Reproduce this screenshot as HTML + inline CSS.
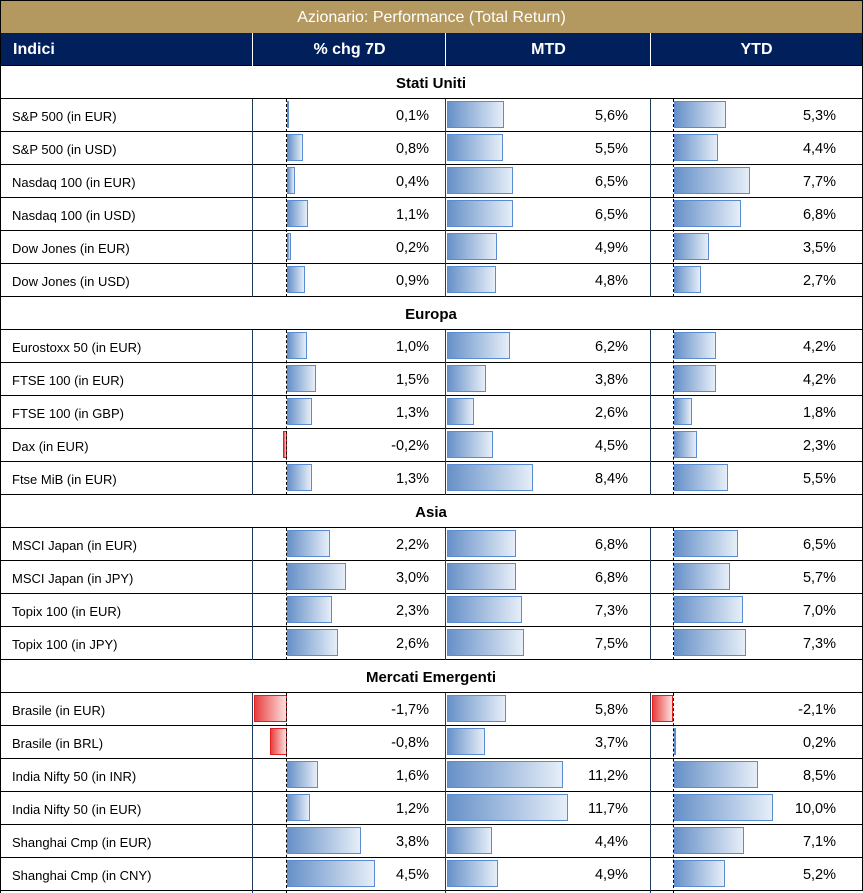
<!DOCTYPE html>
<html><head><meta charset="utf-8"><style>
body{margin:0;width:863px;height:893px;background:#fff;position:relative;overflow:hidden;font-family:"Liberation Sans",sans-serif;}
.t{position:absolute;left:0;top:0;width:861px;height:32px;background:#b3985f;border:1px solid #000;color:#fff;font-size:16px;text-align:center;line-height:34px}
.h{position:absolute;left:0;top:33px;width:861px;height:32px;background:#001f5b;border:1px solid #000;border-top:none;color:#fff;font-size:16px;font-weight:bold;line-height:34px}
.h span{position:absolute;top:0;text-align:center}
.s{position:absolute;left:0;width:862px;height:32px;border-right:1px solid #000;border-bottom:1px solid #000;font-weight:bold;font-size:15px;text-align:center;line-height:35px}
.r{position:absolute;left:0;width:862px;height:32px;border-right:1px solid #000;border-bottom:1px solid #000;font-size:13px;line-height:35px}
.r .l{position:absolute;left:12px;top:0}
.r .v{position:absolute;top:0;text-align:right;font-size:14.5px}
.b{position:absolute;top:2px;height:27px;box-sizing:border-box;border:1px solid #5b8bd0;background:linear-gradient(to right,#6791c8,#e6eef8)}
.n{position:absolute;top:2px;height:27px;box-sizing:border-box;border:1px solid #e02020;background:linear-gradient(to right,#e84040,#fde0e0)}
.vl{position:absolute;width:1px;background:#1f3b5a}
.dl{position:absolute;width:0;border-left:1px dashed #000}
</style></head><body>
<div class="t">Azionario: Performance (Total Return)</div>
<div class="h"><span style="left:12px">Indici</span><span style="left:252px;width:193px">% chg 7D</span><span style="left:445px;width:205px">MTD</span><span style="left:650px;width:211px">YTD</span></div>
<div class="vl" style="left:252px;top:33px;height:33px;background:#fff"></div>
<div class="vl" style="left:445px;top:33px;height:33px;background:#fff"></div>
<div class="vl" style="left:650px;top:33px;height:33px;background:#fff"></div>

<div class="s" style="top:66px">Stati Uniti</div>
<div class="s" style="top:297px">Europa</div>
<div class="s" style="top:495px">Asia</div>
<div class="s" style="top:660px">Mercati Emergenti</div>

<div class="r" style="top:99px"><span class="l">S&amp;P 500 (in EUR)</span><div class="b" style="left:287px;width:2px"></div><span class="v" style="right:433px">0,1%</span><div class="b" style="left:447px;width:57px"></div><span class="v" style="right:234px">5,6%</span><div class="b" style="left:674px;width:52px"></div><span class="v" style="right:26px">5,3%</span></div>
<div class="r" style="top:132px"><span class="l">S&amp;P 500 (in USD)</span><div class="b" style="left:287px;width:16px"></div><span class="v" style="right:433px">0,8%</span><div class="b" style="left:447px;width:56px"></div><span class="v" style="right:234px">5,5%</span><div class="b" style="left:674px;width:44px"></div><span class="v" style="right:26px">4,4%</span></div>
<div class="r" style="top:165px"><span class="l">Nasdaq 100 (in EUR)</span><div class="b" style="left:287px;width:8px"></div><span class="v" style="right:433px">0,4%</span><div class="b" style="left:447px;width:66px"></div><span class="v" style="right:234px">6,5%</span><div class="b" style="left:674px;width:76px"></div><span class="v" style="right:26px">7,7%</span></div>
<div class="r" style="top:198px"><span class="l">Nasdaq 100 (in USD)</span><div class="b" style="left:287px;width:21px"></div><span class="v" style="right:433px">1,1%</span><div class="b" style="left:447px;width:66px"></div><span class="v" style="right:234px">6,5%</span><div class="b" style="left:674px;width:67px"></div><span class="v" style="right:26px">6,8%</span></div>
<div class="r" style="top:231px"><span class="l">Dow Jones (in EUR)</span><div class="b" style="left:287px;width:4px"></div><span class="v" style="right:433px">0,2%</span><div class="b" style="left:447px;width:50px"></div><span class="v" style="right:234px">4,9%</span><div class="b" style="left:674px;width:35px"></div><span class="v" style="right:26px">3,5%</span></div>
<div class="r" style="top:264px"><span class="l">Dow Jones (in USD)</span><div class="b" style="left:287px;width:18px"></div><span class="v" style="right:433px">0,9%</span><div class="b" style="left:447px;width:49px"></div><span class="v" style="right:234px">4,8%</span><div class="b" style="left:674px;width:27px"></div><span class="v" style="right:26px">2,7%</span></div>

<div class="r" style="top:330px"><span class="l">Eurostoxx 50 (in EUR)</span><div class="b" style="left:287px;width:20px"></div><span class="v" style="right:433px">1,0%</span><div class="b" style="left:447px;width:63px"></div><span class="v" style="right:234px">6,2%</span><div class="b" style="left:674px;width:42px"></div><span class="v" style="right:26px">4,2%</span></div>
<div class="r" style="top:363px"><span class="l">FTSE 100 (in EUR)</span><div class="b" style="left:287px;width:29px"></div><span class="v" style="right:433px">1,5%</span><div class="b" style="left:447px;width:39px"></div><span class="v" style="right:234px">3,8%</span><div class="b" style="left:674px;width:42px"></div><span class="v" style="right:26px">4,2%</span></div>
<div class="r" style="top:396px"><span class="l">FTSE 100 (in GBP)</span><div class="b" style="left:287px;width:25px"></div><span class="v" style="right:433px">1,3%</span><div class="b" style="left:447px;width:27px"></div><span class="v" style="right:234px">2,6%</span><div class="b" style="left:674px;width:18px"></div><span class="v" style="right:26px">1,8%</span></div>
<div class="r" style="top:429px"><span class="l">Dax (in EUR)</span><div class="n" style="left:283px;width:4px"></div><span class="v" style="right:433px">-0,2%</span><div class="b" style="left:447px;width:46px"></div><span class="v" style="right:234px">4,5%</span><div class="b" style="left:674px;width:23px"></div><span class="v" style="right:26px">2,3%</span></div>
<div class="r" style="top:462px"><span class="l">Ftse MiB (in EUR)</span><div class="b" style="left:287px;width:25px"></div><span class="v" style="right:433px">1,3%</span><div class="b" style="left:447px;width:86px"></div><span class="v" style="right:234px">8,4%</span><div class="b" style="left:674px;width:54px"></div><span class="v" style="right:26px">5,5%</span></div>

<div class="r" style="top:528px"><span class="l">MSCI Japan (in EUR)</span><div class="b" style="left:287px;width:43px"></div><span class="v" style="right:433px">2,2%</span><div class="b" style="left:447px;width:69px"></div><span class="v" style="right:234px">6,8%</span><div class="b" style="left:674px;width:64px"></div><span class="v" style="right:26px">6,5%</span></div>
<div class="r" style="top:561px"><span class="l">MSCI Japan (in JPY)</span><div class="b" style="left:287px;width:59px"></div><span class="v" style="right:433px">3,0%</span><div class="b" style="left:447px;width:69px"></div><span class="v" style="right:234px">6,8%</span><div class="b" style="left:674px;width:56px"></div><span class="v" style="right:26px">5,7%</span></div>
<div class="r" style="top:594px"><span class="l">Topix 100 (in EUR)</span><div class="b" style="left:287px;width:45px"></div><span class="v" style="right:433px">2,3%</span><div class="b" style="left:447px;width:75px"></div><span class="v" style="right:234px">7,3%</span><div class="b" style="left:674px;width:69px"></div><span class="v" style="right:26px">7,0%</span></div>
<div class="r" style="top:627px"><span class="l">Topix 100 (in JPY)</span><div class="b" style="left:287px;width:51px"></div><span class="v" style="right:433px">2,6%</span><div class="b" style="left:447px;width:77px"></div><span class="v" style="right:234px">7,5%</span><div class="b" style="left:674px;width:72px"></div><span class="v" style="right:26px">7,3%</span></div>

<div class="r" style="top:693px"><span class="l">Brasile (in EUR)</span><div class="n" style="left:254px;width:33px"></div><span class="v" style="right:433px">-1,7%</span><div class="b" style="left:447px;width:59px"></div><span class="v" style="right:234px">5,8%</span><div class="n" style="left:652px;width:21px"></div><span class="v" style="right:26px">-2,1%</span></div>
<div class="r" style="top:726px"><span class="l">Brasile (in BRL)</span><div class="n" style="left:270px;width:17px"></div><span class="v" style="right:433px">-0,8%</span><div class="b" style="left:447px;width:38px"></div><span class="v" style="right:234px">3,7%</span><div class="b" style="left:674px;width:2px"></div><span class="v" style="right:26px">0,2%</span></div>
<div class="r" style="top:759px"><span class="l">India Nifty 50 (in INR)</span><div class="b" style="left:287px;width:31px"></div><span class="v" style="right:433px">1,6%</span><div class="b" style="left:447px;width:116px"></div><span class="v" style="right:234px">11,2%</span><div class="b" style="left:674px;width:84px"></div><span class="v" style="right:26px">8,5%</span></div>
<div class="r" style="top:792px"><span class="l">India Nifty 50 (in EUR)</span><div class="b" style="left:287px;width:23px"></div><span class="v" style="right:433px">1,2%</span><div class="b" style="left:447px;width:121px"></div><span class="v" style="right:234px">11,7%</span><div class="b" style="left:674px;width:99px"></div><span class="v" style="right:26px">10,0%</span></div>
<div class="r" style="top:825px"><span class="l">Shanghai Cmp (in EUR)</span><div class="b" style="left:287px;width:74px"></div><span class="v" style="right:433px">3,8%</span><div class="b" style="left:447px;width:45px"></div><span class="v" style="right:234px">4,4%</span><div class="b" style="left:674px;width:70px"></div><span class="v" style="right:26px">7,1%</span></div>
<div class="r" style="top:858px"><span class="l">Shanghai Cmp (in CNY)</span><div class="b" style="left:287px;width:88px"></div><span class="v" style="right:433px">4,5%</span><div class="b" style="left:447px;width:51px"></div><span class="v" style="right:234px">4,9%</span><div class="b" style="left:674px;width:51px"></div><span class="v" style="right:26px">5,2%</span></div>

<div style="position:absolute;left:0;top:66px;width:1px;height:827px;background:#000"></div>

<div class="vl" style="left:252px;top:99px;height:198px"></div>
<div class="vl" style="left:445px;top:99px;height:198px"></div>
<div class="vl" style="left:650px;top:99px;height:198px"></div>
<div class="dl" style="left:286px;top:99px;height:198px"></div>
<div class="dl" style="left:673px;top:99px;height:198px"></div>

<div class="vl" style="left:252px;top:330px;height:165px"></div>
<div class="vl" style="left:445px;top:330px;height:165px"></div>
<div class="vl" style="left:650px;top:330px;height:165px"></div>
<div class="dl" style="left:286px;top:330px;height:165px"></div>
<div class="dl" style="left:673px;top:330px;height:165px"></div>

<div class="vl" style="left:252px;top:528px;height:132px"></div>
<div class="vl" style="left:445px;top:528px;height:132px"></div>
<div class="vl" style="left:650px;top:528px;height:132px"></div>
<div class="dl" style="left:286px;top:528px;height:132px"></div>
<div class="dl" style="left:673px;top:528px;height:132px"></div>

<div class="vl" style="left:252px;top:693px;height:200px"></div>
<div class="vl" style="left:445px;top:693px;height:200px"></div>
<div class="vl" style="left:650px;top:693px;height:200px"></div>
<div class="dl" style="left:286px;top:693px;height:200px"></div>
<div class="dl" style="left:673px;top:693px;height:200px"></div>
</body></html>
